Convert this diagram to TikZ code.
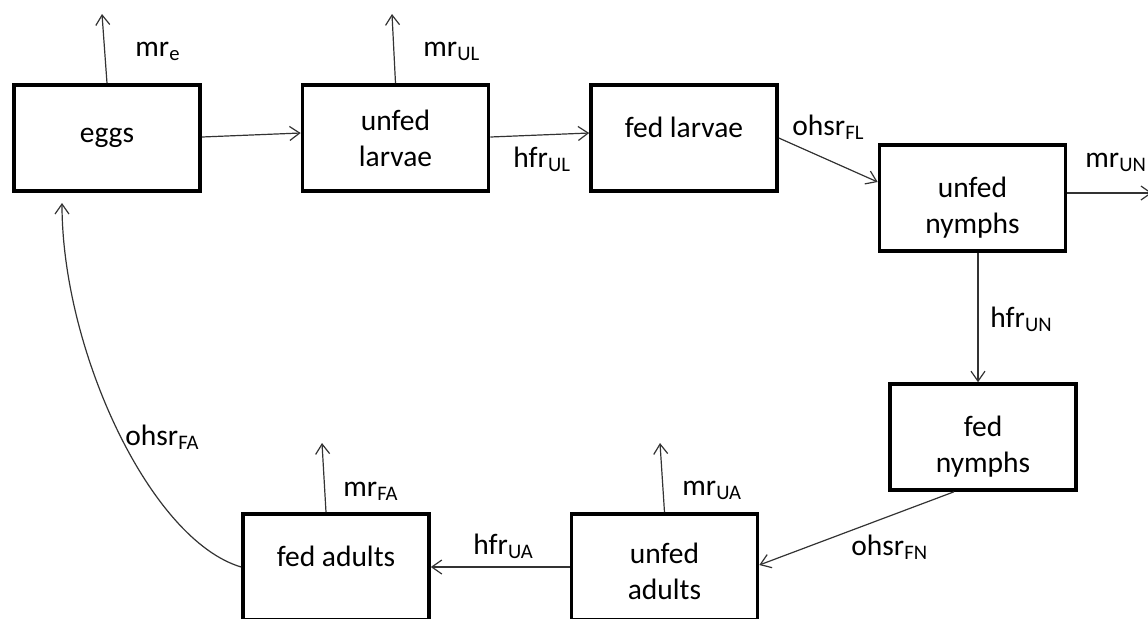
\documentclass[tikz,border=0pt]{standalone}
\usepackage{fontspec}
\setmainfont{Carlito}
\usetikzlibrary{arrows.meta}
\newcommand{\rate}[2]{#1\textsubscript{#2}}
\newcommand{\sink}[1]{\rule{0pt}{#1}}

\begin{document}
\begin{tikzpicture}[x=0.5pt,y=-0.5pt,
  every node/.style={font=\fontsize{14.75}{18}\selectfont},
  box/.style={draw,line width=1.8pt,minimum width=93pt,minimum height=53pt,inner sep=0pt,align=center},
  flow/.style={-{Straight Barb[length=5pt,width=7pt]},line width=0.6pt,black!80},
  rlab/.style={anchor=base west,inner sep=0pt}]
  \useasboundingbox (0,0) rectangle (1148,618);
  % life stages
  \node[box] (eggs) at (107,138) {eggs};
  \node[box] (ul) at (395.5,138) {unfed\\larvae};
  \node[box,text depth=11pt] (fl) at (684,138) {fed larvae};
  \node[box] (un) at (972.5,198) {\sink{19.5pt}unfed\\nymphs};
  \node[box] (fn) at (983,437) {\sink{19.5pt}fed\\nymphs};
  \node[box] (ua) at (664.5,567) {\sink{14.5pt}unfed\\adults};
  \node[box,text depth=11pt] (fa) at (336,567) {fed adults};
  % free ends
  \coordinate (me) at (102,14);
  \coordinate (mul) at (392,14);
  \coordinate (mun) at (1152,193);
  \coordinate (mua) at (660,443);
  \coordinate (mfa) at (322,443);
  \coordinate (back) at (62,203);
  % transitions
  \draw[flow] ([yshift=0.5pt]eggs.east) -- ([yshift=2.5pt]ul.west);
  \draw[flow] ([yshift=0.5pt]ul.east) -- ([yshift=2.5pt]fl.west);
  \draw[flow] (fl.east) -- ([yshift=8pt]un.west);
  \draw[flow] ([xshift=2.75pt]un.south) -- ([xshift=-2.5pt]fn.north);
  \draw[flow] ([xshift=-14.5pt]fn.south) -- ([yshift=1pt]ua.east);
  \draw[flow] (ua.west) -- (fa.east);
  \draw[flow] (fa.west) .. controls (150,540) and (62,350) .. (back);
  % mortality
  \draw[flow] (eggs.north) -- (me);
  \draw[flow] (ul.north) -- (mul);
  \draw[flow] ([yshift=2.5pt]un.east) -- (mun);
  \draw[flow] (ua.north) -- (mua);
  \draw[flow] ([xshift=-5pt]fa.north) -- (mfa);
  % rates
  \node[rlab] (lme) at (135,56) {\rate{mr}{e}};
  \node[rlab] (lmul) at (423,56) {\rate{mr}{UL}};
  \node[rlab] (lhul) at (513,167) {\rate{hfr}{UL}};
  \node[rlab] (lofl) at (792,135) {\rate{ohsr}{FL}};
  \node[rlab] (lmun) at (1085,167) {\rate{mr}{UN}};
  \node[rlab] (lhun) at (990,327) {\rate{hfr}{UN}};
  \node[rlab] (lofn) at (851,555) {\rate{ohsr}{FN}};
  \node[rlab] (lmua) at (682,495) {\rate{mr}{UA}};
  \node[rlab] (lmfa) at (343,496) {\rate{mr}{FA}};
  \node[rlab] (lhua) at (473,554) {\rate{hfr}{UA}};
  \node[rlab] (lofa) at (125,445) {\rate{ohsr}{FA}};
\end{tikzpicture}
\end{document}
